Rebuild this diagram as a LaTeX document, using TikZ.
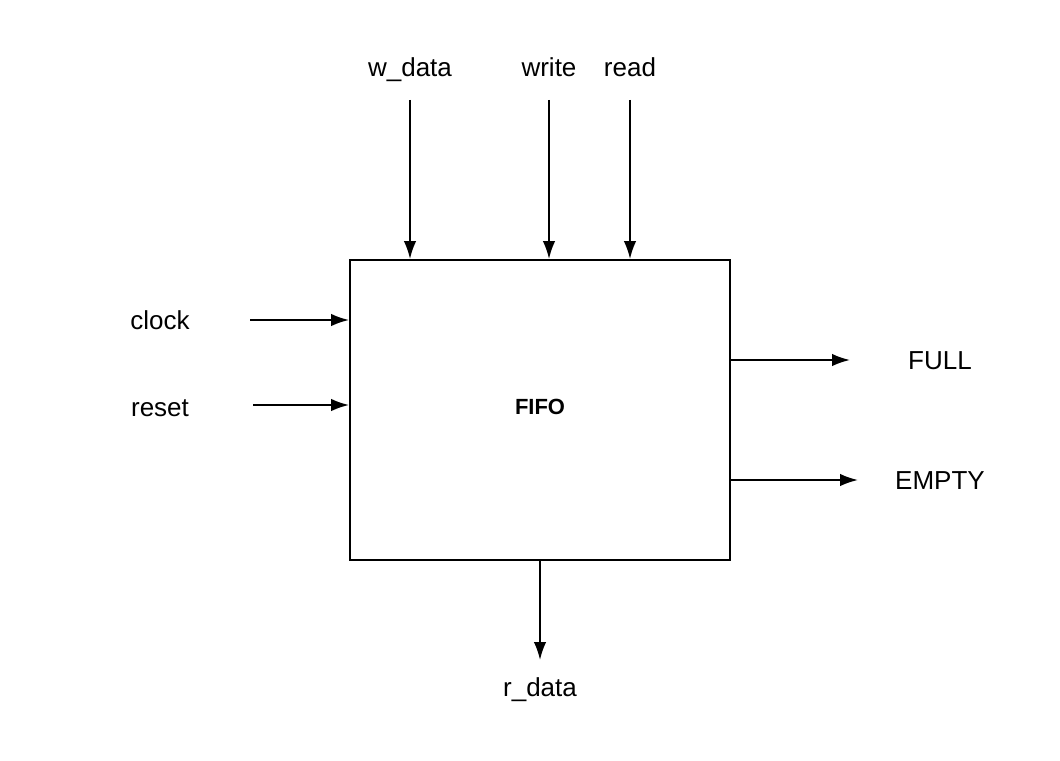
\documentclass[tikz,border=0pt]{standalone}
\usepackage{fontspec}
\setmainfont{Liberation Sans}
\usetikzlibrary{arrows.meta}
\usetikzlibrary{positioning}

\tikzset{
  sig/.style={line width=1.1pt,-{Latex[length=3.6mm,width=2.5mm]}},
  port/.style={font=\fontsize{14.8}{17}\selectfont,inner sep=0pt,text height=0.72em,text depth=0.2em},
  blk/.style={draw,line width=1.1pt,minimum width=7.6cm,minimum height=6cm}
}

\begin{document}
\begin{tikzpicture}[x=0.02cm,y=-0.02cm]
  \useasboundingbox (0,0) rectangle (1060,760);
  % the block
  \node[blk] (fifo) at (540,410) {};
  \node[font=\bfseries\fontsize{12.5}{15}\selectfont] (name) at (540,407) {FIFO};
  % inputs on top
  \node[port] (wdata) at (410,72) {w\_data};
  \node[port] (write) at (549,72) {write};
  \node[port] (read) at (630,72) {read};
  \coordinate (wd0) at (410,100);
  \coordinate (wr0) at (549,100);
  \coordinate (rd0) at (630,100);
  \draw[sig] (wd0) -- (wd0 |- fifo.north);
  \draw[sig] (wr0) -- (wr0 |- fifo.north);
  \draw[sig] (rd0) -- (rd0 |- fifo.north);
  % inputs on the left
  \node[port] (clock) at (160,325) {clock};
  \node[port] (reset) at (160,412) {reset};
  \coordinate (ck0) at (250,320);
  \coordinate (rs0) at (253,405);
  \draw[sig] (ck0) -- (ck0 -| fifo.west);
  \draw[sig] (rs0) -- (rs0 -| fifo.west);
  % outputs
  \node[port] (full) at (940,365) {FULL};
  \node[port] (empty) at (940,485) {EMPTY};
  \node[port] (rdata) at (540,692) {r\_data};
  \coordinate (fu1) at (850,360);
  \coordinate (em1) at (858,480);
  \coordinate (rd1) at (540,660);
  \draw[sig] (fu1 -| fifo.east) -- (fu1);
  \draw[sig] (em1 -| fifo.east) -- (em1);
  \draw[sig] (fifo.south) -- (rd1);
\end{tikzpicture}
\end{document}
